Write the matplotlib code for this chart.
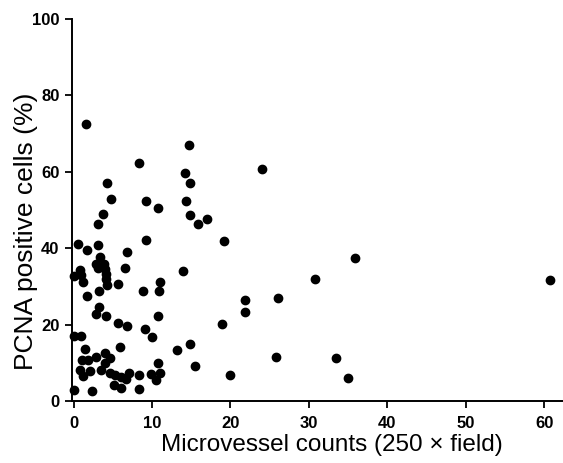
import matplotlib.pyplot as plt

# microvessel counts (x) and PCNA positive cells % (y)
microvessels = [1.6, 8.3, 14.7, 14.2, 14.8, 24.0, 4.3, 4.8, 9.2, 10.8, 14.3, 14.9,
                15.8, 17.0, 3.7, 3.1, 9.2, 19.2, 0.5, 3.1, 1.7, 6.8, 3.4, 35.9,
                2.9, 3.9, 3.1, 4.0, 4.1, 4.1, 4.3, 6.6, 0.8, 1.0, 1.2, 0.0,
                14.0, 11.0, 5.7, 30.8, 60.8, 3.2, 1.7, 8.9, 10.9, 26.0, 21.8,
                3.2, 2.9, 4.1, 10.7, 21.8, 5.7, 6.8, 9.1, 18.9, 10.0, 0.0, 0.9,
                1.4, 5.9, 13.2, 14.9, 4.0, 2.9, 4.6, 4.0, 1.1, 1.8, 10.8, 15.5,
                25.8, 33.4, 0.8, 2.1, 1.2, 3.5, 4.6, 5.3, 6.1, 7.0, 6.7, 8.3,
                9.9, 11.0, 10.5, 19.9, 35.0, 5.1, 6.1, 8.3, 0.1, 2.4]
pcna = [72.4, 62.2, 66.9, 59.8, 57.0, 60.6, 57.0, 52.8, 52.3, 50.6, 52.3, 48.6,
        46.4, 47.6, 48.9, 46.3, 42.2, 42.0, 41.0, 40.8, 39.4, 38.9, 37.7, 37.3,
        35.9, 35.9, 34.8, 34.6, 33.3, 32.0, 30.4, 34.8, 34.2, 32.9, 31.2, 32.6,
        33.9, 31.2, 30.6, 31.9, 31.7, 28.8, 27.4, 28.8, 28.8, 27.0, 26.5,
        24.5, 22.8, 22.2, 22.3, 23.2, 20.5, 19.5, 18.9, 20.1, 16.8, 17.0, 17.0,
        13.5, 14.0, 13.4, 14.8, 12.5, 11.6, 11.2, 9.9, 10.7, 10.7, 10.0, 9.2,
        11.6, 11.3, 8.1, 7.9, 6.6, 8.1, 7.2, 6.8, 6.4, 7.4, 5.7, 6.9,
        7.1, 7.2, 5.6, 6.7, 6.1, 4.2, 3.5, 3.1, 2.9, 2.5]

xticks = [0, 10, 20, 30, 40, 50, 60]
yticks = [0, 20, 40, 60, 80, 100]

plt.rcParams['font.family'] = ['Liberation Sans', 'DejaVu Sans']

fig = plt.figure(figsize=(5.63, 4.63), dpi=100)
ax = fig.add_axes([0.128, 0.134, 0.872, 0.825])

ax.scatter(microvessels, pcna, s=36, color='black', zorder=3, clip_on=False)

ax.set_xlim(-0.2, 62.4)
ax.set_ylim(0, 100)
ax.set_xticks(xticks)
ax.set_yticks(yticks)
ax.tick_params(labelsize=12, width=1.3, length=5, direction='out')
ax.tick_params(axis='x', pad=6)
ax.tick_params(axis='y', pad=4)
for lab in ax.get_xticklabels() + ax.get_yticklabels():
    lab.set_fontweight('bold')

for side in ['top', 'right']:
    ax.spines[side].set_visible(False)
for side in ['left', 'bottom']:
    ax.spines[side].set_linewidth(1.4)

ax.set_xlabel("Microvessel counts (250 \u00d7 field)", fontsize=17.5)
ax.set_ylabel("PCNA positive cells (%)", fontsize=19)
ax.xaxis.set_label_coords(0.53, -0.087)
ax.yaxis.set_label_coords(-0.07, 0.445)

plt.savefig("out.png", dpi=100)
